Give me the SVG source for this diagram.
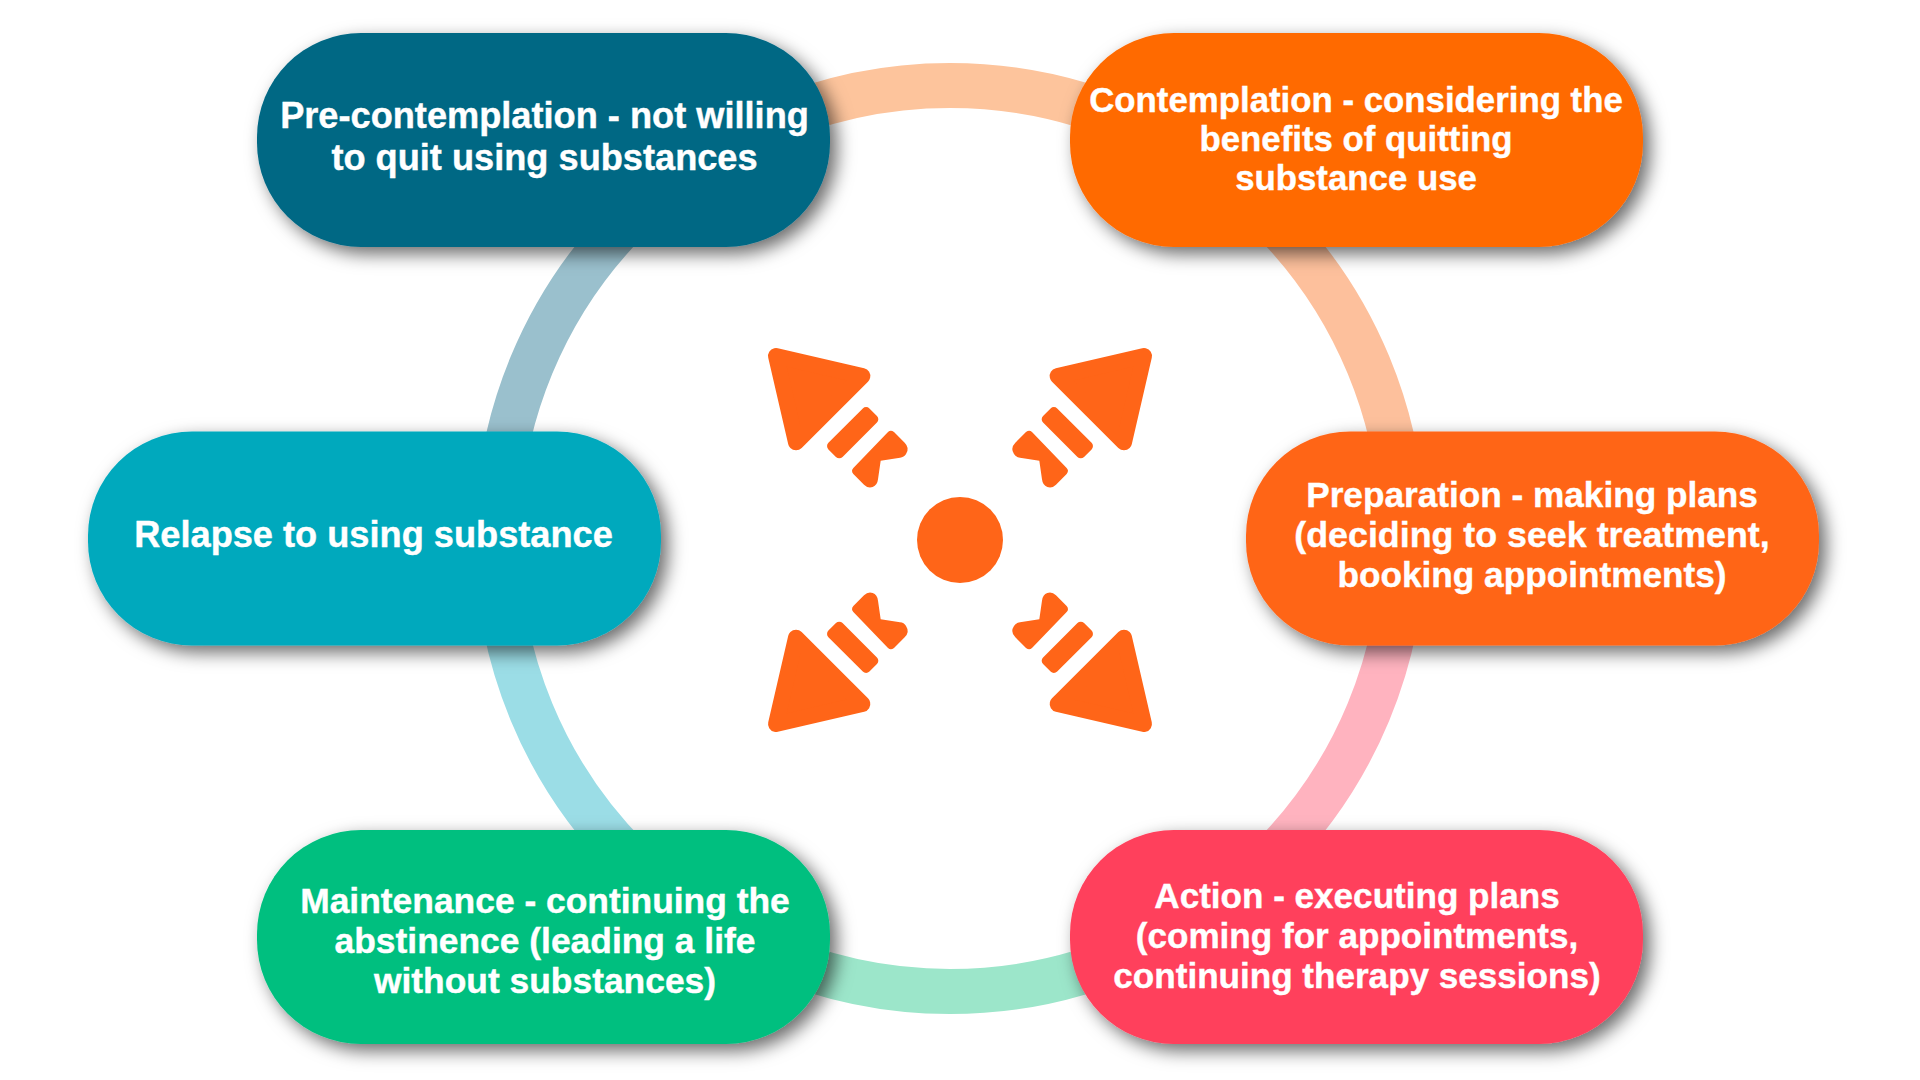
<svg xmlns="http://www.w3.org/2000/svg" width="1920" height="1080" viewBox="0 0 1920 1080">
  <style>
    .seg { fill: none; stroke-width: 45; }
    .pill { filter: url(#shade); }
    .lbl { font-family: "Liberation Sans", Arial, sans-serif; font-weight: 700; fill: #fff; stroke: #fff; stroke-width: 0.4; text-anchor: middle; }
    .ico { fill: #ff6518; }
  </style>
  <defs>
    <filter id="shade" x="-10%" y="-20%" width="125%" height="150%">
      <feDropShadow dx="7" dy="7" stdDeviation="9" flood-color="#000" flood-opacity="0.58"/>
    </filter>
    <g id="spur" transform="translate(-660 -660)">
      <polygon points="108,108 367,168 168,367" fill="#ff6518" stroke="#ff6518" stroke-width="48" stroke-linejoin="round"/>
      <rect x="251" y="308" width="174" height="60" rx="14" transform="rotate(-45 338 338)"/>
      <path d="M340 444L444 336Q452 328 462 336L494 368Q510 384 498 402Q492 412 480 413L422 422L414 478Q412 496 398 501Q384 506 372 494L340 462Q332 452 340 444Z"/>
    </g>
  </defs>
  <rect width="1920" height="1080" fill="#fff"/>

  <g id="connectors" transform="translate(1 0)">
    <path class="seg" stroke="#fdc49c" d="M 759 127.3 A 453 453 0 0 1 1139 127.3"/>
    <path class="seg" stroke="#fdc09c" d="M 1269 217.9 A 453 453 0 0 1 1402 538.5"/>
    <path class="seg" stroke="#ffb3bf" d="M 1402 538.5 A 453 453 0 0 1 1269 859.1"/>
    <path class="seg" stroke="#9ce6ca" d="M 1139 949.7 A 453 453 0 0 1 759 949.7"/>
    <path class="seg" stroke="#9bdde6" d="M 629 859.1 A 453 453 0 0 1 496 538.5"/>
    <path class="seg" stroke="#9ac0cd" d="M 496 538.5 A 453 453 0 0 1 629 217.9"/>
  </g>

  <g id="hub" class="ico" transform="translate(960 540) scale(0.3333)">
    <circle r="129"/>
    <use href="#spur"/>
    <use href="#spur" transform="scale(-1 1)"/>
    <use href="#spur" transform="scale(1 -1)"/>
    <use href="#spur" transform="scale(-1 -1)"/>
  </g>

  <g id="pre-contemplation" font-size="36.2">
    <rect class="pill" x="257" y="33" width="573" height="214" rx="104" fill="#006884"/>
    <text class="lbl" x="544.5" y="128">Pre-contemplation - not willing</text>
    <text class="lbl" x="544.5" y="170">to quit using substances</text>
  </g>
  <g id="contemplation" font-size="34.8">
    <rect class="pill" x="1070" y="33" width="573" height="214" rx="104" fill="#ff6a00"/>
    <text class="lbl" x="1356" y="112">Contemplation - considering the</text>
    <text class="lbl" x="1356" y="151">benefits of quitting</text>
    <text class="lbl" x="1356" y="190">substance use</text>
  </g>
  <g id="preparation" font-size="35.2">
    <rect class="pill" x="1246" y="431.5" width="573" height="214" rx="104" fill="#ff6519"/>
    <text class="lbl" x="1532" y="507">Preparation - making plans</text>
    <text class="lbl" x="1532" y="546.5" font-size="35.8">(deciding to seek treatment,</text>
    <text class="lbl" x="1532" y="587">booking appointments)</text>
  </g>
  <g id="relapse" font-size="36.2">
    <rect class="pill" x="88" y="431.5" width="573" height="214" rx="104" fill="#00a9bd"/>
    <text class="lbl" x="373.5" y="547">Relapse to using substance</text>
  </g>
  <g id="maintenance" font-size="35.4">
    <rect class="pill" x="257" y="830" width="573" height="214" rx="104" fill="#00bf7f"/>
    <text class="lbl" x="545" y="913">Maintenance - continuing the</text>
    <text class="lbl" x="545" y="953">abstinence (leading a life</text>
    <text class="lbl" x="545" y="993">without substances)</text>
  </g>
  <g id="action" font-size="35.1">
    <rect class="pill" x="1070" y="830" width="573" height="214" rx="104" fill="#ff405b"/>
    <text class="lbl" x="1357" y="908">Action - executing plans</text>
    <text class="lbl" x="1357" y="948">(coming for appointments,</text>
    <text class="lbl" x="1357" y="988">continuing therapy sessions)</text>
  </g>
</svg>
